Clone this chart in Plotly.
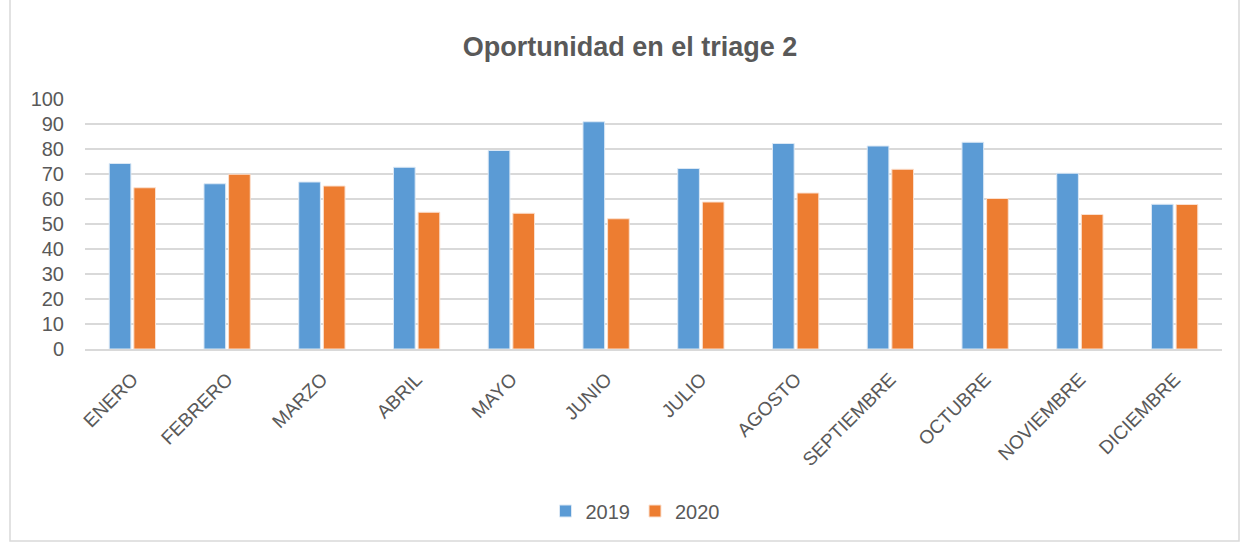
import plotly.graph_objects as go

meses = ["ENERO", "FEBRERO", "MARZO", "ABRIL", "MAYO", "JUNIO", "JULIO",
         "AGOSTO", "SEPTIEMBRE", "OCTUBRE", "NOVIEMBRE", "DICIEMBRE"]
valores_2019 = [74.2, 66.1, 66.8, 72.7, 79.4, 90.9, 72.2, 82.2, 81.2, 82.7, 70.3, 57.9]
valores_2020 = [64.5, 69.9, 65.2, 54.7, 54.3, 52.1, 58.8, 62.4, 71.9, 60.2, 53.8, 57.8]
ticks_y = [0, 10, 20, 30, 40, 50, 60, 70, 80, 90, 100]

W, H = 1241, 543
ML, MR, MT, MB = 85, 19, 99, 194
pw, ph = W - ML - MR, H - MT - MB

fig = go.Figure()
fig.add_trace(go.Bar(x=meses, y=valores_2019, name="2019",
                     marker=dict(color="#5b9bd5", line=dict(color="#dbe8f5", width=1))))
fig.add_trace(go.Bar(x=meses, y=valores_2020, name="2020",
                     marker=dict(color="#ed7d31", line=dict(color="#fbe0cf", width=1))))

gris = "#595959"
fig.update_layout(
    width=W, height=H,
    margin=dict(l=ML, r=MR, t=MT, b=MB),
    paper_bgcolor="white", plot_bgcolor="white",
    barmode="group", bargap=0.48, bargroupgap=0.12,
    font=dict(family="Liberation Sans, Arial, sans-serif", color=gris),
    title=dict(text="<b>Oportunidad en el triage 2</b>", x=630 / W, xanchor="center",
               y=1 - 47 / H, yanchor="middle",
               font=dict(size=27, color=gris, family="Liberation Sans Narrow, Liberation Sans, Arial")),
    legend=dict(orientation="h", x=(635 - ML) / pw, xanchor="center", y=-(511 - MT - ph) / ph,
                yanchor="middle", font=dict(size=20, color=gris), itemwidth=30,
                traceorder="normal"),
    showlegend=True,
)
fig.update_yaxes(range=[0, 100], tickvals=ticks_y, showgrid=True, gridcolor="#d9d9d9",
                 gridwidth=1.5, zeroline=False, showline=False,
                 tickfont=dict(size=20, color=gris), ticks="", ticklabelstandoff=20)
fig.update_xaxes(showline=True, linecolor="#d9d9d9", linewidth=1.5, tickangle=-45,
                 tickfont=dict(size=19, color=gris), ticks="", ticklabelstandoff=10)

# chart frame
fig.add_shape(type="rect", xref="paper", yref="paper",
              x0=(10 - ML) / pw, x1=(W - 2 - ML) / pw,
              y0=-(H - 2 - MT - ph) / ph, y1=(H - MT - 10) / ph,
              line=dict(color="#d9d9d9", width=1.5), fillcolor="rgba(0,0,0,0)", layer="below")

fig.write_html("out.html")
